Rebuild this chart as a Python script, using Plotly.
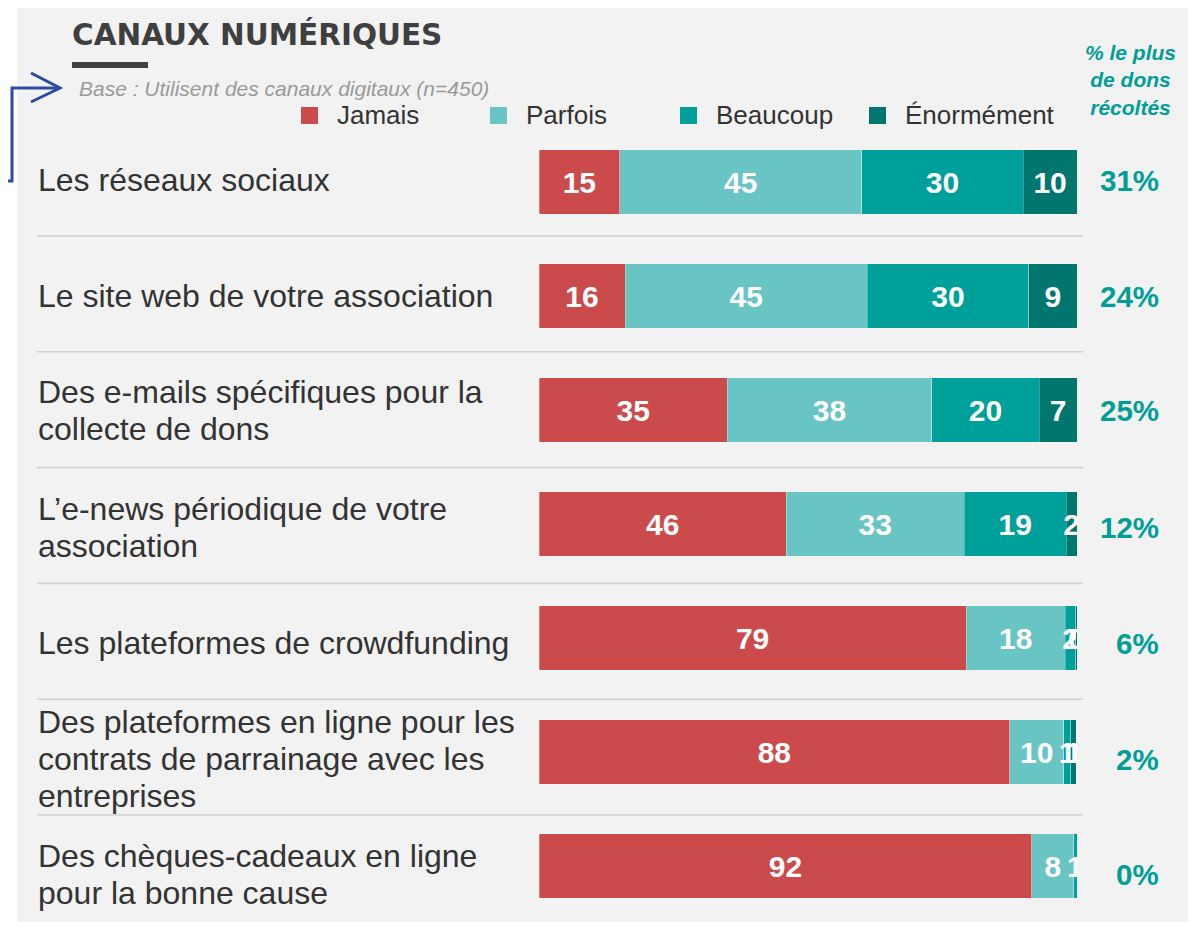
import plotly.graph_objects as go

# page has an 8px body margin: figure is drawn at (8, 8) in the page
OFF = 8
W, H = 1198 - OFF, 926 - OFF

categories = [
    "Les réseaux sociaux",
    "Le site web de votre association",
    "Des e-mails spécifiques pour la<br>collecte de dons",
    "L’e-news périodique de votre<br>association",
    "Les plateformes de crowdfunding",
    "Des plateformes en ligne pour les<br>contrats de parrainage avec les<br>entreprises",
    "Des chèques-cadeaux en ligne<br>pour la bonne cause",
]
series_names = ["Jamais", "Parfois", "Beaucoup", "Énormément"]
jamais = [15, 16, 35, 46, 79.4, 87.5, 91.6]
parfois = [45, 45, 38, 33, 18.4, 10, 7.8]
beaucoup = [30, 30, 20, 19, 2.0, 1.3, 0.6]
enormement = [10, 9, 7, 2, 0.2, 1.1, 0]
pct_plus_dons = [31, 24, 25, 12, 6, 2, 0]

# layout-only: vertical nudge (px) of the row labels
label_yshift = [2, 0, 0, -3, -5, -7, -8]
LINE_H = 37

colors = ["#CB4B4C", "#68C5C3", "#00A09A", "#00766F"]
TEAL_TXT = "#009E96"
FONT = "Liberation Sans"


def px(x):
    return (x - OFF) / W


def py(y):
    return 1 - (y - OFF) / H


fig = go.Figure()
for name, vals, col in zip(series_names, [jamais, parfois, beaucoup, enormement], colors):
    fig.add_trace(go.Bar(
        y=categories, x=vals, name=name, orientation="h",
        marker=dict(color=col, line=dict(color="rgba(255,255,255,0.35)", width=0.8)),
        text=[f"{v:.0f}" for v in vals],
        textposition="inside", insidetextanchor="middle",
        constraintext="none", textangle=0,
        textfont=dict(family=FONT, size=30, color="white", weight="bold"),
        hoverinfo="skip",
    ))

shapes = []
shapes.append(dict(type="rect", xref="paper", yref="paper", x0=px(17), x1=px(1188),
                   y0=py(922), y1=py(3), fillcolor="#F2F2F2", line=dict(width=0), layer="below"))
for i in range(len(categories) - 1):
    ys = 236 + i * 115.8
    shapes.append(dict(type="line", xref="paper", yref="paper", x0=px(37), x1=px(1083),
                       y0=py(ys), y1=py(ys), line=dict(color="#D0D0D0", width=1.5), layer="below"))
shapes.append(dict(type="rect", xref="paper", yref="paper", x0=px(72), x1=px(148),
                   y0=py(68), y1=py(62), fillcolor="#404040", line=dict(width=0)))
arrow_col = "#2E4C9F"
shapes.append(dict(type="path", xref="paper", yref="paper",
                   path=f"M {px(0)},{py(181)} L {px(12)},{py(181)} L {px(12)},{py(88)} L {px(58)},{py(88)}",
                   line=dict(color=arrow_col, width=3)))
shapes.append(dict(type="path", xref="paper", yref="paper",
                   path=f"M {px(31)},{py(73)} L {px(60)},{py(88)} L {px(31)},{py(102)}",
                   line=dict(color=arrow_col, width=3)))

annotations = []
annotations.append(dict(xref="paper", yref="paper", x=px(70), y=py(34), xanchor="left", yanchor="middle",
                        text="<b>CANAUX NUMÉRIQUES</b>", showarrow=False,
                        font=dict(family="DejaVu Sans", size=29.5, color="#3F3F3F")))
annotations.append(dict(xref="paper", yref="paper", x=px(77), y=py(88), xanchor="left", yanchor="middle",
                        text="<i>Base : Utilisent des canaux digitaux (n=450)</i>", showarrow=False,
                        font=dict(family=FONT, size=21, color="#9A9A9A")))
annotations.append(dict(xref="paper", yref="paper", x=px(1130), y=py(80), xanchor="center", yanchor="middle",
                        text="<b><i>% le plus<br>de dons<br>récoltés</i></b>", showarrow=False,
                        font=dict(family=FONT, size=21, color=TEAL_TXT)))
leg_x = [301, 490, 680, 869]
for name, col, lx in zip(series_names, colors, leg_x):
    shapes.append(dict(type="rect", xref="paper", yref="paper", x0=px(lx), x1=px(lx + 17),
                       y0=py(124), y1=py(107), fillcolor=col, line=dict(width=0)))
    annotations.append(dict(xref="paper", yref="paper", x=px(lx + 34), y=py(115), xanchor="left",
                            yanchor="middle", text=name, showarrow=False,
                            font=dict(family=FONT, size=26, color="#333333")))
for cat, p, dy in zip(categories, pct_plus_dons, label_yshift):
    lines = cat.split("<br>")
    n = len(lines)
    for k, line in enumerate(lines):
        annotations.append(dict(xref="paper", yref="y", x=px(36), y=cat, xanchor="left", yanchor="middle",
                                text=line, align="left", showarrow=False,
                                yshift=dy + ((n - 1) / 2 - k) * LINE_H,
                                font=dict(family=FONT, size=32, color="#333333")))
    annotations.append(dict(xref="paper", yref="y", x=px(1161), y=cat, xanchor="right", yanchor="middle",
                            text=f"<b>{p}%</b>", showarrow=False, yshift=dy,
                            font=dict(family=FONT, size=29.5, color=TEAL_TXT)))

fig.update_layout(
    width=W, height=H, barmode="stack", bargap=0.43,
    margin=dict(l=0, r=0, t=0, b=0),
    paper_bgcolor="white", plot_bgcolor="rgba(0,0,0,0)",
    showlegend=False,
    xaxis=dict(domain=[px(539), px(1077)], range=[0, 100], visible=False, fixedrange=True),
    yaxis=dict(domain=[py(923), py(125)], range=[len(categories) - 0.5, -0.5], visible=False,
               type="category", categoryorder="array", categoryarray=categories),
    shapes=shapes, annotations=annotations,
    font=dict(family=FONT),
)

fig.write_html("out.html")
